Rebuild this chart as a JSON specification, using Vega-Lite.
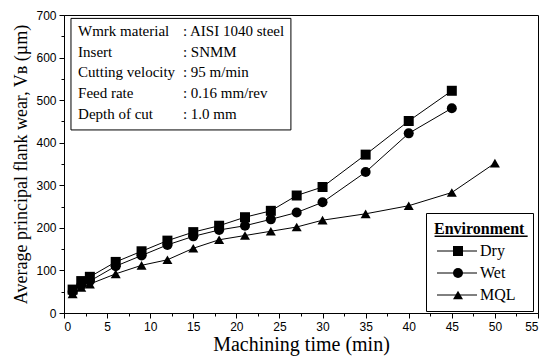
{
  "$schema": "https://vega.github.io/schema/vega-lite/v6.json",
  "width": 474,
  "height": 298,
  "autosize": {"type": "none"},
  "padding": {"left": 64, "top": 15, "right": 13, "bottom": 46},
  "background": "white",
  "config": {
    "view": {"stroke": "black", "strokeWidth": 1},
    "axis": {
      "domainColor": "black", "tickColor": "black", "grid": false,
      "labelFont": "Liberation Sans", "labelFontSize": 12, "labelColor": "black",
      "titleFont": "Times New Roman, Liberation Serif, DejaVu Serif, serif", "titleFontWeight": "normal", "titleColor": "black"
    },
    "legend": {
      "orient": "none", "legendX": 362, "legendY": 198, "direction": "vertical", "padding": 8,
      "titleFont": "Times New Roman, Liberation Serif, DejaVu Serif, serif", "titleFontSize": 16, "titleFontWeight": "bold", "titleColor": "black",
      "titlePadding": 6,
      "labelFont": "Times New Roman, Liberation Serif, DejaVu Serif, serif", "labelFontSize": 16, "labelColor": "black",
      "labelOffset": 30, "rowPadding": 6,
      "symbolSize": 100, "symbolFillColor": "black", "symbolStrokeColor": "black", "symbolStrokeWidth": 1, "symbolOpacity": 1
    }
  },
  "data": {
    "values": [
      {"t": 1, "wear": 55, "env": "Dry"}, {"t": 2, "wear": 75, "env": "Dry"}, {"t": 3, "wear": 85, "env": "Dry"},
      {"t": 6, "wear": 120, "env": "Dry"}, {"t": 9, "wear": 145, "env": "Dry"}, {"t": 12, "wear": 170, "env": "Dry"},
      {"t": 15, "wear": 190, "env": "Dry"}, {"t": 18, "wear": 205, "env": "Dry"}, {"t": 21, "wear": 225, "env": "Dry"},
      {"t": 24, "wear": 240, "env": "Dry"}, {"t": 27, "wear": 276, "env": "Dry"}, {"t": 30, "wear": 296, "env": "Dry"},
      {"t": 35, "wear": 372, "env": "Dry"}, {"t": 40, "wear": 451, "env": "Dry"}, {"t": 45, "wear": 522, "env": "Dry"},
      {"t": 1, "wear": 50, "env": "Wet"}, {"t": 2, "wear": 65, "env": "Wet"}, {"t": 3, "wear": 75, "env": "Wet"},
      {"t": 6, "wear": 110, "env": "Wet"}, {"t": 9, "wear": 135, "env": "Wet"}, {"t": 12, "wear": 160, "env": "Wet"},
      {"t": 15, "wear": 180, "env": "Wet"}, {"t": 18, "wear": 195, "env": "Wet"}, {"t": 21, "wear": 205, "env": "Wet"},
      {"t": 24, "wear": 220, "env": "Wet"}, {"t": 27, "wear": 236, "env": "Wet"}, {"t": 30, "wear": 260, "env": "Wet"},
      {"t": 35, "wear": 331, "env": "Wet"}, {"t": 40, "wear": 422, "env": "Wet"}, {"t": 45, "wear": 481, "env": "Wet"},
      {"t": 1, "wear": 45, "env": "MQL"}, {"t": 2, "wear": 60, "env": "MQL"}, {"t": 3, "wear": 68, "env": "MQL"},
      {"t": 6, "wear": 92, "env": "MQL"}, {"t": 9, "wear": 112, "env": "MQL"}, {"t": 12, "wear": 125, "env": "MQL"},
      {"t": 15, "wear": 152, "env": "MQL"}, {"t": 18, "wear": 172, "env": "MQL"}, {"t": 21, "wear": 182, "env": "MQL"},
      {"t": 24, "wear": 192, "env": "MQL"}, {"t": 27, "wear": 202, "env": "MQL"}, {"t": 30, "wear": 218, "env": "MQL"},
      {"t": 35, "wear": 233, "env": "MQL"}, {"t": 40, "wear": 252, "env": "MQL"}, {"t": 45, "wear": 283, "env": "MQL"},
      {"t": 50, "wear": 352, "env": "MQL"}
    ]
  },
  "encoding": {
    "x": {
      "field": "t", "type": "quantitative",
      "scale": {"domain": [0, 55], "nice": false, "zero": false},
      "axis": {
        "values": [0, 2.5, 5, 7.5, 10, 12.5, 15, 17.5, 20, 22.5, 25, 27.5, 30, 32.5, 35, 37.5, 40, 42.5, 45, 47.5, 50, 52.5, 55],
        "labelExpr": "datum.value % 5 === 0 ? datum.label : ''",
        "tickSize": {"condition": {"test": "datum.value % 5 === 0", "value": 5}, "value": 3},
        "labelPadding": 3,
        "title": "Machining time (min)", "titleFontSize": 20, "titlePadding": 2
      }
    },
    "y": {
      "field": "wear", "type": "quantitative",
      "scale": {"domain": [0, 700], "nice": false},
      "axis": {
        "values": [0, 50, 100, 150, 200, 250, 300, 350, 400, 450, 500, 550, 600, 650, 700],
        "labelExpr": "datum.value % 100 === 0 ? datum.label : ''",
        "tickSize": {"condition": {"test": "datum.value % 100 === 0", "value": 5}, "value": 3},
        "labelPadding": 3,
        "title": "Average principal flank wear, Vʙ (µm)", "titleFontSize": 18, "titlePadding": 5
      }
    }
  },
  "layer": [
    {
      "mark": {"type": "line", "strokeWidth": 1},
      "encoding": {
        "detail": {"field": "env"},
        "color": {
          "field": "env", "type": "nominal", "sort": ["Dry", "Wet", "MQL"],
          "scale": {"range": ["black", "black", "black"]},
          "legend": {
            "title": "Environment", "strokeColor": "black", "fillColor": null,
            "symbolType": "M-1,0H7"
          }
        }
      }
    },
    {
      "mark": {"type": "point", "filled": true, "color": "black", "opacity": 1, "size": 100},
      "encoding": {
        "shape": {
          "field": "env", "type": "nominal",
          "scale": {"domain": ["Dry", "Wet", "MQL"], "range": ["square", "circle", "triangle-up"]},
          "legend": {
            "title": "Environment", "titleOpacity": 0, "labelOpacity": 0, "labelExpr": "''", "symbolOffset": 16
          }
        }
      }
    },
    {
      "transform": [{"filter": "datum.t === 50"}],
      "mark": {"type": "rect", "fill": null, "stroke": "black", "strokeWidth": 1},
      "encoding": {"x": {"datum": 0.81}, "x2": {"datum": 26.33}, "y": {"datum": 692}, "y2": {"datum": 430}}
    },
    {
      "transform": [{"filter": "datum.t === 50"}],
      "mark": {
        "type": "text", "font": "Times New Roman, Liberation Serif, DejaVu Serif, serif", "fontSize": 15, "align": "left", "baseline": "alphabetic",
        "lineHeight": 20.6, "color": "black",
        "text": ["Wmrk material", "Insert", "Cutting velocity", "Feed rate", "Depth of cut"]
      },
      "encoding": {"x": {"datum": 1.63}, "y": {"datum": 650}}
    },
    {
      "transform": [{"filter": "datum.t === 50"}],
      "mark": {
        "type": "text", "font": "Times New Roman, Liberation Serif, DejaVu Serif, serif", "fontSize": 15, "align": "left", "baseline": "alphabetic",
        "lineHeight": 20.6, "color": "black",
        "text": [": AISI 1040 steel", ": SNMM", ": 95 m/min", ": 0.16 mm/rev", ": 1.0 mm"]
      },
      "encoding": {"x": {"datum": 13.8}, "y": {"datum": 650}}
    },
    {
      "transform": [{"filter": "datum.t === 50"}],
      "mark": {"type": "rule", "color": "black", "strokeWidth": 1.5},
      "encoding": {"x": {"datum": 43.0}, "x2": {"datum": 53.8}, "y": {"datum": 180}}
    }
  ]
}
